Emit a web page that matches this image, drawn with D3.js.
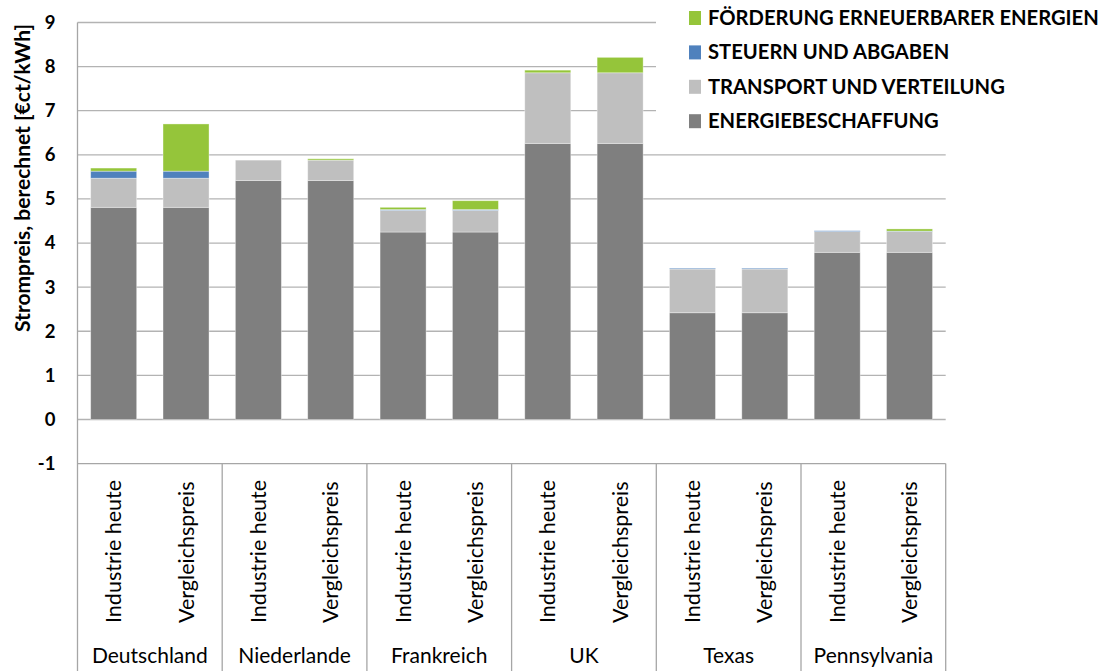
<!DOCTYPE html>
<html>
<head>
<meta charset="utf-8">
<script src="https://cdn.jsdelivr.net/npm/d3@7"></script>
<style>
  html, body { margin: 0; padding: 0; background: #ffffff; }
  svg { display: block; font-family: Lato, "Open Sans", sans-serif; }
</style>
</head>
<body>
<svg id="chart" width="1105" height="671"></svg>
<script>
// Regions and the two price variants shown for each
const regions = ["Deutschland", "Niederlande", "Frankreich", "UK", "Texas", "Pennsylvania"];
const variants = ["Industrie heute", "Vergleichspreis"];

// Price components in €ct/kWh, one value per bar (region × variant)
const energiebeschaffung = [4.81, 4.81, 5.42, 5.42, 4.25, 4.25, 6.26, 6.26, 2.42, 2.42, 3.79, 3.79];
const transport          = [0.66, 0.66, 0.46, 0.46, 0.49, 0.49, 1.60, 1.60, 0.99, 0.99, 0.47, 0.47];
const steuern            = [0.16, 0.16, 0.00, 0.00, 0.02, 0.02, 0.00, 0.00, 0.02, 0.02, 0.02, 0.01];
const foerderung         = [0.07, 1.07, 0.00, 0.03, 0.05, 0.20, 0.06, 0.35, 0.00, 0.00, 0.00, 0.05];

const yTicks = [-1, 0, 1, 2, 3, 4, 5, 6, 7, 8, 9];

const series = [
  { key: "energie",    label: "ENERGIEBESCHAFFUNG",             values: energiebeschaffung, color: "#7f7f7f" },
  { key: "transport",  label: "TRANSPORT UND VERTEILUNG",       values: transport,          color: "#bfbfbf" },
  { key: "steuern",    label: "STEUERN UND ABGABEN",            values: steuern,            color: "#4f81bd" },
  { key: "foerderung", label: "FÖRDERUNG ERNEUERBARER ENERGIEN", values: foerderung,        color: "#95c53a" }
];

// One row per bar
const rows = [];
regions.forEach((r, i) => variants.forEach((v, j) => {
  const idx = i * variants.length + j;
  const row = { region: r, variant: v };
  series.forEach(s => { row[s.key] = s.values[idx]; });
  rows.push(row);
}));

const svg = d3.select("#chart");
const plot = { left: 77.5, right: 945.7, top: 22.5, bottom: 463.6 };
const gridColor = "#b3b3b3";

const x0 = d3.scaleBand().domain(regions).range([plot.left, plot.right]);
const x1 = d3.scaleBand().domain(variants).range([0, x0.bandwidth()])
  .paddingInner(0.364).paddingOuter(0.182);
const y = d3.scaleLinear().domain([-1, 9]).range([plot.bottom, plot.top]);

// Horizontal gridlines
svg.append("g").selectAll("line").data(yTicks.filter(t => t >= 0)).join("line")
  .attr("x1", plot.left).attr("x2", plot.right)
  .attr("y1", d => y(d)).attr("y2", d => y(d))
  .attr("stroke", gridColor).attr("stroke-width", 1.3);

// Y axis with bold tick labels (plain hyphen for negatives)
const yAxis = svg.append("g")
  .attr("transform", `translate(${plot.left},0)`)
  .call(d3.axisLeft(y).tickValues(yTicks).tickSize(0).tickPadding(22).tickFormat(d => String(d)));
yAxis.select(".domain").remove();
yAxis.selectAll("text")
  .attr("font-family", "Lato, sans-serif")
  .attr("font-size", 18.5).attr("font-weight", "bold").attr("fill", "#000");

// Category box beneath the plot
const box = svg.append("g").attr("stroke", "#a6a6a6").attr("stroke-width", 1.3).attr("fill", "none");
box.append("line").attr("x1", plot.left).attr("x2", plot.right)
  .attr("y1", plot.bottom).attr("y2", plot.bottom);
box.selectAll("line.sep").data(regions.slice(1).concat(["__end"])).join("line")
  .attr("class", "sep")
  .attr("x1", d => d === "__end" ? plot.right : x0(d))
  .attr("x2", d => d === "__end" ? plot.right : x0(d))
  .attr("y1", plot.bottom).attr("y2", 671);
// Left axis line, running down through the category box
svg.append("line").attr("x1", plot.left).attr("x2", plot.left)
  .attr("y1", plot.top).attr("y2", 671)
  .attr("stroke", "#a6a6a6").attr("stroke-width", 1.3);

// Stacked bars
const stacked = d3.stack().keys(series.map(s => s.key))(rows);
const barX = d => x0(d.data.region) + x1(d.data.variant);
svg.append("g").selectAll("g").data(stacked).join("g")
  .attr("fill", (d, i) => series[i].color)
  .selectAll("rect").data(d => d).join("rect")
  .attr("x", barX)
  .attr("width", x1.bandwidth())
  .attr("y", d => y(d[1]))
  .attr("height", d => Math.max(0, y(d[0]) - y(d[1])))
  .attr("stroke", "rgba(255,255,255,0.45)").attr("stroke-width", 0.8);

// Rotated variant labels
const labels = svg.append("g");
rows.forEach(r => {
  const cx = x0(r.region) + x1(r.variant) + x1.bandwidth() / 2;
  labels.append("text")
    .attr("transform", `translate(${cx + 7.5},623) rotate(-90)`)
    .attr("font-size", 21.5).attr("fill", "#000")
    .text(r.variant);
});

// Region labels
svg.append("g").selectAll("text").data(regions).join("text")
  .attr("x", d => x0(d) + x0.bandwidth() / 2).attr("y", 663)
  .attr("text-anchor", "middle").attr("font-size", 21).attr("fill", "#000")
  .text(d => d);

// Y axis title
svg.append("text")
  .attr("transform", "translate(30,178) rotate(-90)")
  .attr("text-anchor", "middle").attr("font-size", 21).attr("font-weight", "bold")
  .attr("fill", "#000")
  .text("Strompreis, berechnet [€ct/kWh]");

// Legend, on a white panel above the upper gridlines
const legend = svg.append("g");
legend.append("rect").attr("x", 656).attr("y", 0).attr("width", 449).attr("height", 140).attr("fill", "#fff");
series.slice().reverse().forEach((s, i) => {
  const cy = 18 + i * 34.4;
  legend.append("rect").attr("x", 689).attr("y", cy - 7).attr("width", 12).attr("height", 14).attr("fill", s.color);
  legend.append("text").attr("x", 708).attr("y", cy + 7)
    .attr("font-size", 20.2).attr("font-weight", "bold").attr("fill", "#000")
    .text(s.label);
});
</script>
</body>
</html>
